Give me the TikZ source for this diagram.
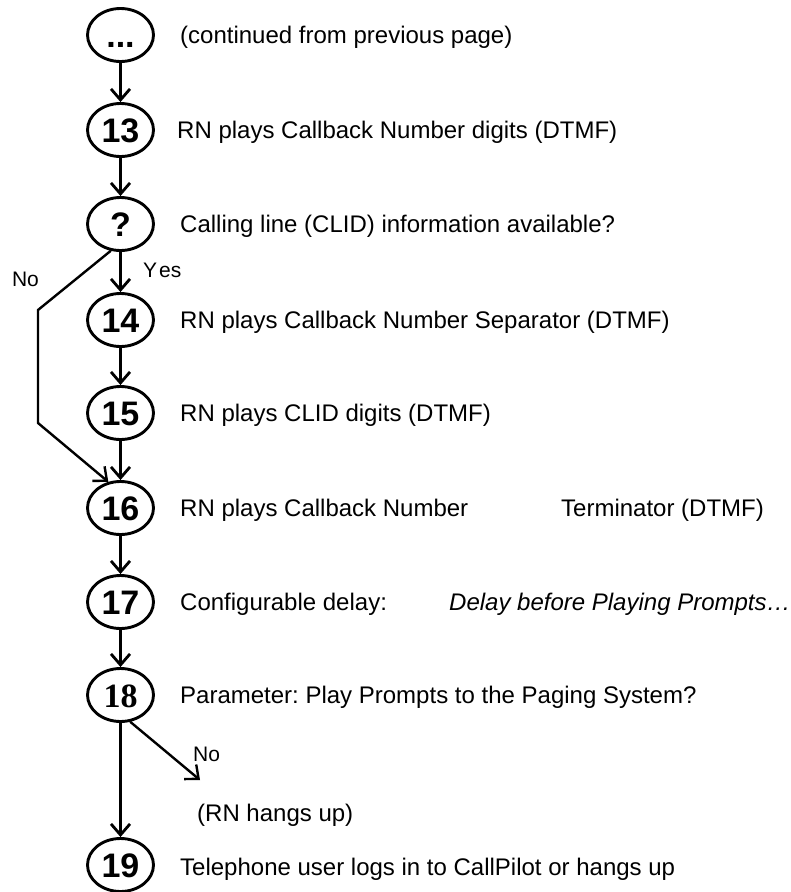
\documentclass[tikz,border=0pt]{standalone}
\usepackage{fontspec}
\setmainfont{Liberation Sans}
\newfontfamily\serifnum{Liberation Serif}
\usetikzlibrary{arrows.meta,shapes.geometric}
\frenchspacing

\begin{document}
\begin{tikzpicture}[x=1pt,y=-1pt,
  stepnode/.style={draw, ellipse, line width=2.9pt, minimum width=66pt,
    minimum height=53pt, inner sep=0pt,
    font=\fontsize{34}{40}\selectfont\bfseries, text height=24pt, text depth=0pt},
  lbl/.style={anchor=west, inner sep=0pt, font=\fontsize{24}{29}\selectfont,
    text height=17pt, text depth=0pt},
  tag/.style={inner sep=0pt, font=\fontsize{21}{25}\selectfont,
    text height=15pt, text depth=0pt},
  flow/.style={line width=2.8pt, -{Straight Barb[length=11pt,width=19pt]}},
]
\useasboundingbox (0,0) rectangle (791,892);

% step bubbles
\node[stepnode] (n0)  at (120.5,35)  {...};
\node[stepnode] (n13) at (120.5,130) {13};
\node[stepnode] (q)   at (120.5,224) {?};
\node[stepnode] (n14) at (120.5,320) {14};
\node[stepnode] (n15) at (120.5,413) {15};
\node[stepnode] (n16) at (120.5,508) {16};
\node[stepnode] (n17) at (120.5,602) {17};
\node[stepnode] (n18) at (120.5,695) {\serifnum\bfseries 18};
\node[stepnode] (n19) at (120.5,865) {19};

% descriptions
\node[lbl] (t0)  at (180,35)  {(continued from previous page)};
\node[lbl] (t13) at (177,130) {RN plays Callback Number digits (DTMF)};
\node[lbl] (tq)  at (180,224) {Calling line (CLID) information available?};
\node[lbl] (t14) at (180,320) {RN plays Callback Number Separator (DTMF)};
\node[lbl] (t15) at (180,413) {RN plays CLID digits (DTMF)};
\node[lbl] (t16) at (180,508) {RN plays Callback Number};
\node[lbl] (t16b) at (561,508) {Terminator (DTMF)};
\node[lbl] (t17) at (180,602) {Configurable delay:};
\node[lbl] (t17b) at (449,602) {\itshape Delay before Playing Prompts…};
\node[lbl] (t18) at (180,695) {Parameter: Play Prompts to the Paging System?};
\node[lbl] (thang) at (197,813) {(RN hangs up)};
\node[lbl] (t19) at (180,867) {Telephone user logs in to CallPilot or hangs up};

% branch labels
\node[tag, anchor=west] (yes) at (143,270) {Y\kern2pt es};
\node[tag] (noq) at (25.5,279) {No};
\node[tag, anchor=west] (no18) at (193,754) {No};

% main flow
\draw[flow] (n0) -- (n13);
\draw[flow] (n13) -- (q);
\draw[flow] (q) -- (n14);
\draw[flow] (n14) -- (n15);
\draw[flow] (n15) -- (n16);
\draw[flow] (n16) -- (n17);
\draw[flow] (n17) -- (n18);
\draw[flow] (n18) -- (n19);

% bypass when no CLID
\coordinate (bend1) at (38,310);
\coordinate (bend2) at (38,423);
\draw[flow, line width=2.4pt] (q.250) -- (bend1) -- (bend2) -- (n16.115);

% hang-up branch
\coordinate (hang) at (200,780);
\draw[flow, line width=2.4pt] (n18.-70) -- (hang);
\end{tikzpicture}
\end{document}
